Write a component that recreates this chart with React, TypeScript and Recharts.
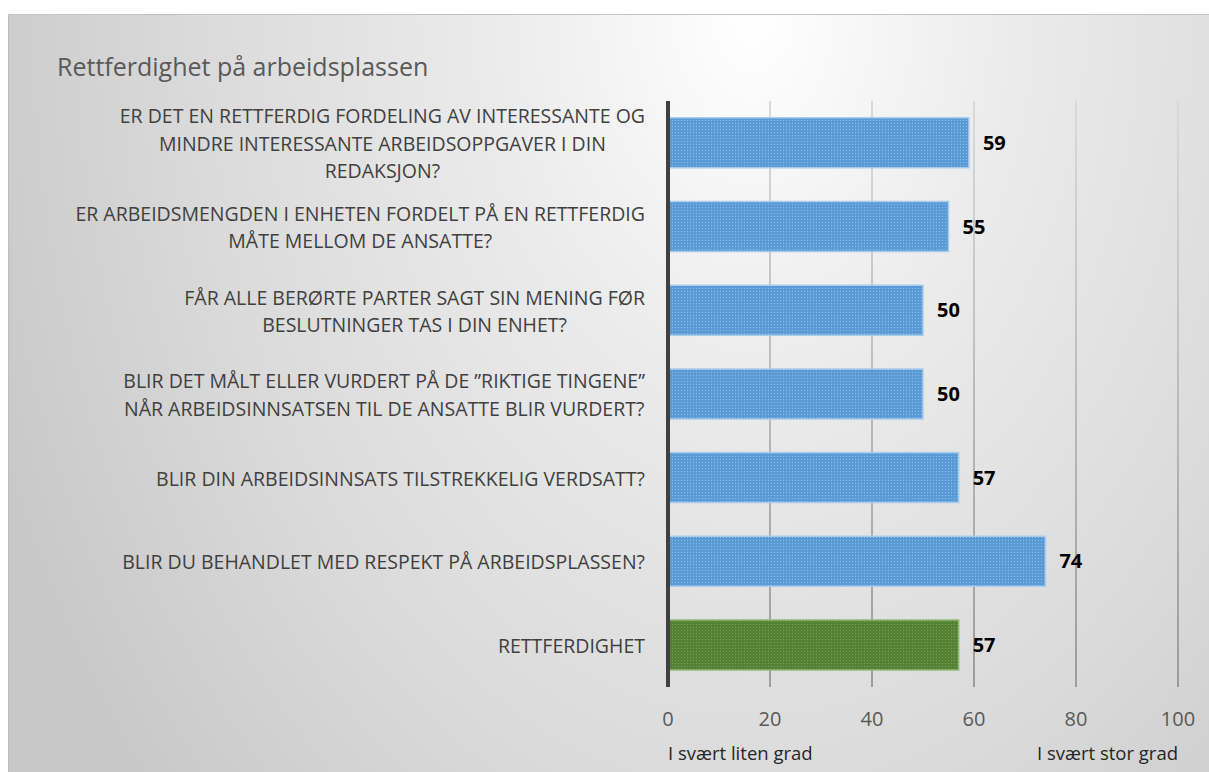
import React from "react";
import { BarChart, Bar, XAxis, YAxis, CartesianGrid, Cell, LabelList } from "recharts";

// spørsmål (kategorier), linjeskift som i originalen
const questions = [
  "ER DET EN RETTFERDIG FORDELING AV INTERESSANTE OG\nMINDRE INTERESSANTE ARBEIDSOPPGAVER I DIN\nREDAKSJON?",
  "ER ARBEIDSMENGDEN I ENHETEN FORDELT PÅ EN RETTFERDIG\nMÅTE MELLOM DE ANSATTE?",
  "FÅR ALLE BERØRTE PARTER SAGT SIN MENING FØR\nBESLUTNINGER TAS I DIN ENHET?",
  "BLIR DET MÅLT ELLER VURDERT PÅ DE ”RIKTIGE TINGENE”\nNÅR ARBEIDSINNSATSEN TIL DE ANSATTE BLIR VURDERT?",
  "BLIR DIN ARBEIDSINNSATS TILSTREKKELIG VERDSATT?",
  "BLIR DU BEHANDLET MED RESPEKT PÅ ARBEIDSPLASSEN?",
  "RETTFERDIGHET",
];
const scores = [59, 55, 50, 50, 57, 74, 57];
const xTicks = [0, 20, 40, 60, 80, 100];
const title = "Rettferdighet på arbeidsplassen";
const lowLabel = "I svært liten grad";
const highLabel = "I svært stor grad";

const data = questions.map((q, i) => ({ name: q, value: scores[i] }));

const FONT = '"Open Sans", sans-serif';
const CAT_SIZE = 19.5;

let ctx: CanvasRenderingContext2D | null = null;
function measure(text: string) {
  if (!ctx) ctx = document.createElement("canvas").getContext("2d");
  if (!ctx) return text.length * CAT_SIZE * 0.6;
  ctx.font = `${CAT_SIZE}px "Open Sans"`;
  return ctx.measureText(text).width;
}

// kategoritekst: linjene sentrert i blokken, blokken høyrejustert mot aksen
function CategoryTick(props: any) {
  const { x, y, payload } = props;
  const lines = String(payload.value).split("\n");
  const w = Math.max(...lines.map(measure));
  const cx = x - w / 2;
  const lh = 27.5;
  const y0 = y - ((lines.length - 1) * lh) / 2;
  return (
    <text
      textAnchor="middle"
      dominantBaseline="central"
      fill="#404040"
      fontSize={CAT_SIZE}
      fontFamily={FONT}
    >
      {lines.map((l, i) => (
        <tspan key={i} x={cx} y={y0 + i * lh}>
          {l}
        </tspan>
      ))}
    </text>
  );
}

function ValueTick(props: any) {
  const { x, y, payload } = props;
  return (
    <text x={x} y={y + 31} textAnchor="middle" dominantBaseline="central" fill="#595959" fontSize={20} fontFamily={FONT}>
      {payload.value}
    </text>
  );
}

export default function App() {
  const last = data.length - 1;
  return (
    <div
      style={{
        position: "absolute",
        left: 8,
        top: 14,
        width: 1200,
        height: 757,
        borderTop: "1px solid #c4c4c4",
        borderLeft: "1px solid #bdbdbd",
        background:
          "radial-gradient(ellipse 62% 140% at 62% 0%, #ffffff 0%, #ebebeb 35%, #dadada 75%, #c8c8c8 110%)",
        fontFamily: FONT,
      }}
    >
      <svg width={0} height={0} style={{ position: "absolute" }}>
        <defs>
          <pattern id="dotsBlue" width={3} height={3} patternUnits="userSpaceOnUse">
            <rect width={3} height={3} fill="#5b9bd5" />
            <rect width={1} height={1} fill="#8dbbe8" />
          </pattern>
          <pattern id="dotsGreen" width={3} height={3} patternUnits="userSpaceOnUse">
            <rect width={3} height={3} fill="#548235" />
            <rect width={1} height={1} fill="#79a35a" />
          </pattern>
          <linearGradient id="gridGrad" gradientUnits="userSpaceOnUse" x1={0} y1={86} x2={0} y2={672}>
            <stop offset="0%" stopColor="#dadada" />
            <stop offset="100%" stopColor="#9c9c9c" />
          </linearGradient>
        </defs>
      </svg>

      <div
        style={{
          position: "absolute",
          left: 48,
          top: 37,
          fontSize: 25,
          lineHeight: "28px",
          color: "#595959",
        }}
      >
        {title}
      </div>

      <BarChart
        layout="vertical"
        width={1200}
        height={757}
        data={data}
        margin={{ top: 86, right: 31, bottom: 15, left: 0 }}
        barCategoryGap="20%"
      >
        <CartesianGrid horizontal={false} stroke="url(#gridGrad)" strokeWidth={2} />
        <XAxis
          type="number"
          domain={[0, 100]}
          ticks={xTicks}
          axisLine={false}
          tickLine={false}
          tickSize={0}
          tickMargin={0}
          height={70}
          tick={(p: any) => <ValueTick {...p} />}
        />
        <YAxis
          type="category"
          dataKey="name"
          width={659}
          axisLine={{ stroke: "#404040", strokeWidth: 4 }}
          tickLine={false}
          tickSize={0}
          tickMargin={23}
          interval={0}
          tick={(p: any) => <CategoryTick {...p} />}
        />
        <Bar dataKey="value" isAnimationActive={false} strokeWidth={1.5}>
          {data.map((d, i) => (
            <Cell
              key={d.name}
              fill={i === last ? "url(#dotsGreen)" : "url(#dotsBlue)"}
              stroke={i === last ? "#93b87a" : "#a9cbec"}
            />
          ))}
          <LabelList
            dataKey="value"
            position="right"
            offset={14}
            fill="#000000"
            fontSize={20}
            fontWeight="bold"
            fontFamily={FONT}
          />
        </Bar>
      </BarChart>

      <div style={{ position: "absolute", left: 659, top: 727, fontSize: 18.5, lineHeight: "22px", color: "#262626" }}>
        {lowLabel}
      </div>
      <div style={{ position: "absolute", right: 31, top: 727, fontSize: 18.5, lineHeight: "22px", color: "#262626" }}>
        {highLabel}
      </div>
    </div>
  );
}
